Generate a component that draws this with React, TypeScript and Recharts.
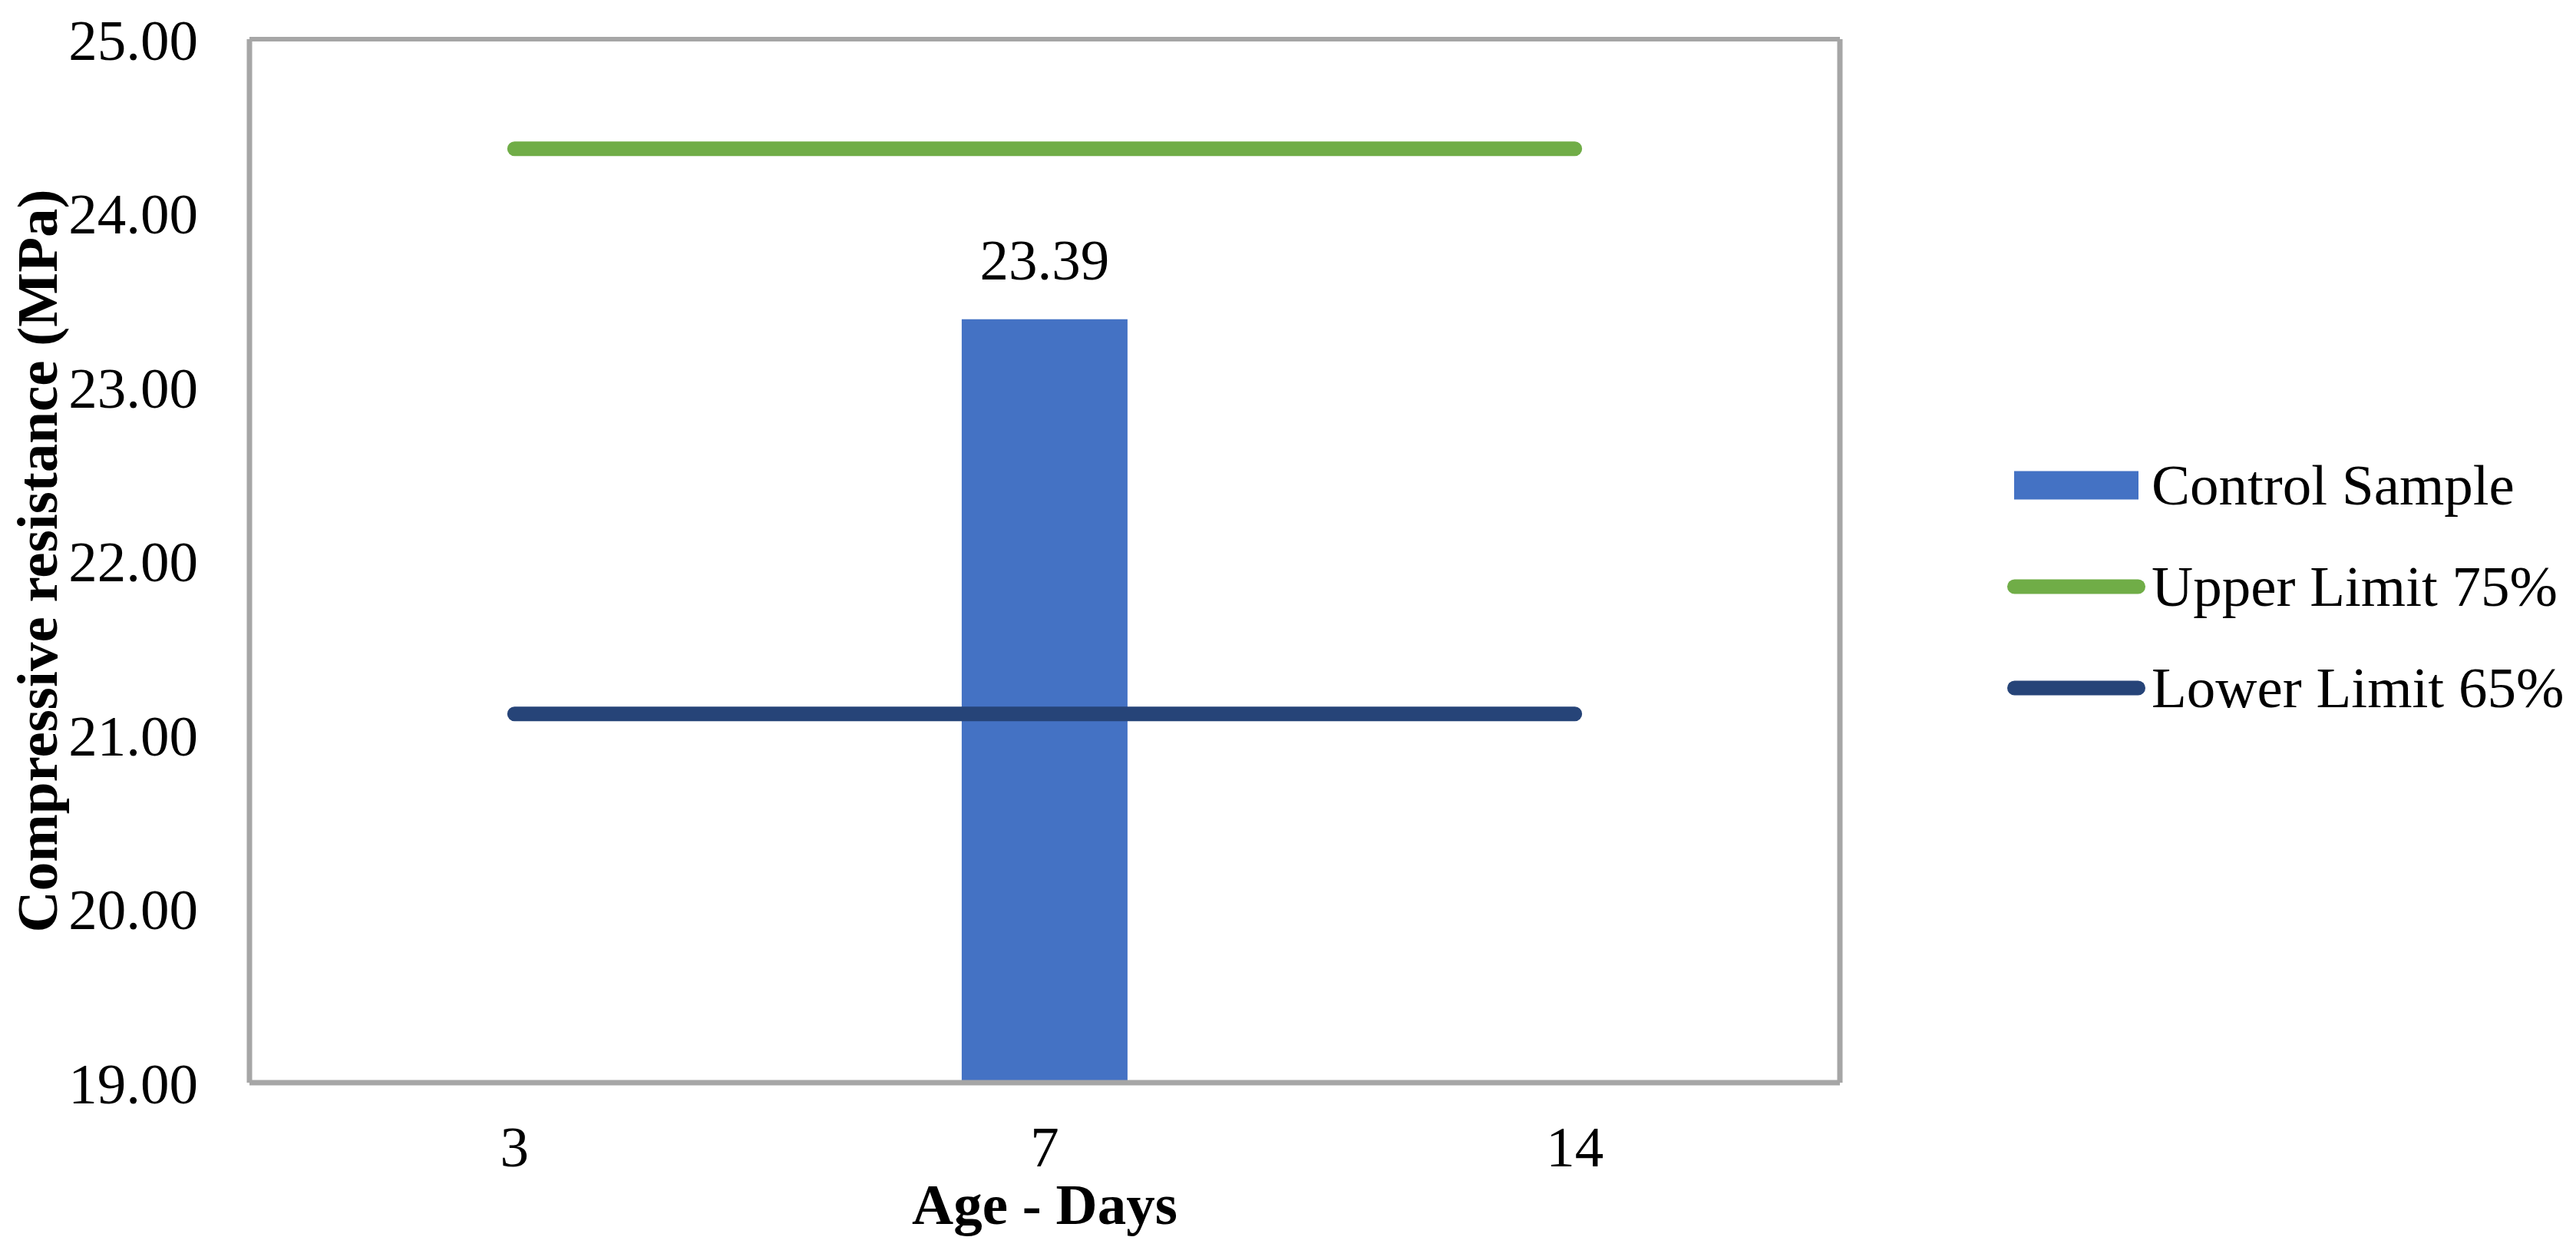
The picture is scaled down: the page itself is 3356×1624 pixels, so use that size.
import React from 'react';
import {
  ComposedChart,
  Bar,
  Line,
  XAxis,
  YAxis,
  CartesianGrid,
  Legend,
  LabelList,
  Label,
} from 'recharts';

const categories = ['3', '7', '14'];
const controlSample = [null, 23.39, null];
const upperLimit = [24.37, 24.37, 24.37];
const lowerLimit = [21.12, 21.12, 21.12];
const yTicks = [19, 20, 21, 22, 23, 24, 25];
const seriesNames = ['Control Sample', 'Upper Limit 75%', 'Lower Limit 65%'];

const data = categories.map((c, i) => ({
  age: c,
  control: controlSample[i],
  upper: upperLimit[i],
  lower: lowerLimit[i],
}));

const FONT = '"Liberation Serif", "Times New Roman", serif';
const GRID = '#A6A6A6';

const renderYTitle = (props: any) => {
  const vb = props.viewBox || { x: 0, y: 51, width: 325, height: 1359 };
  const cx = vb.x + 74;
  const cy = vb.y + vb.height / 2;
  return (
    <text
      x={cx}
      y={cy}
      transform={`rotate(-90 ${cx} ${cy})`}
      textAnchor="middle"
      fill="#000"
      fontSize={75}
      fontWeight="bold"
      fontFamily={FONT}
    >
      Compressive resistance (MPa)
    </text>
  );
};

const renderLegend = (props: any) => {
  const payload = [...(props.payload || [])].sort(
    (a: any, b: any) => seriesNames.indexOf(a.value) - seriesNames.indexOf(b.value)
  );
  return (
    <div style={{ display: 'flex', flexDirection: 'column' }}>
      {payload.map((entry: any, i: number) => (
        <div
          key={i}
          style={{ display: 'flex', alignItems: 'center', height: 132 }}
        >
          <svg width={180} height={40}>
            {entry.type === 'rect' ? (
              <rect x={9} y={1.5} width={162} height={37} fill={entry.color} />
            ) : (
              <line
                x1={9.5}
                x2={170.5}
                y1={20}
                y2={20}
                stroke={entry.color}
                strokeWidth={19}
                strokeLinecap="round"
              />
            )}
          </svg>
          <span
            style={{
              marginLeft: 8,
              fontSize: 75,
              fontFamily: FONT,
              color: '#000',
              lineHeight: 1.1,
              whiteSpace: 'nowrap',
            }}
          >
            {entry.value}
          </span>
        </div>
      ))}
    </div>
  );
};

export default function App() {
  return (
    <div
      style={{
        position: 'absolute',
        left: 0,
        top: 0,
        width: 3356,
        height: 1624,
        background: '#fff',
        fontFamily: FONT,
      }}
    >
      <ComposedChart
        width={3356}
        height={1624}
        data={data}
        margin={{ top: 51, right: 0, bottom: 0, left: 0 }}
        barCategoryGap="34.35%"
      >
        <CartesianGrid
          horizontal={true}
          vertical={false}
          stroke={GRID}
          strokeWidth={6}
        />
        <XAxis
          dataKey="age"
          height={214}
          tickLine={false}
          tickSize={0}
          tickMargin={56}
          axisLine={{ stroke: GRID, strokeWidth: 7 }}
          tick={{ fill: '#000', fontSize: 75, fontFamily: FONT }}
        >
          <Label
            value="Age - Days"
            position="insideBottom"
            offset={30}
            fill="#000"
            fontSize={75}
            fontWeight="bold"
            fontFamily={FONT}
          />
        </XAxis>
        <YAxis
          yAxisId="left"
          width={325}
          domain={[19, 25]}
          ticks={yTicks}
          interval={0}
          allowDataOverflow={true}
          tickFormatter={(v: number) => v.toFixed(2)}
          tickLine={false}
          tickSize={0}
          tickMargin={67}
          axisLine={{ stroke: GRID, strokeWidth: 7 }}
          tick={{ fill: '#000', fontSize: 75, fontFamily: FONT }}
        >
          <Label content={renderYTitle} />
        </YAxis>
        <YAxis
          yAxisId="right"
          orientation="right"
          width={959}
          domain={[19, 25]}
          ticks={yTicks}
          tick={false}
          tickLine={false}
          axisLine={{ stroke: GRID, strokeWidth: 7 }}
        />
        <Bar
          yAxisId="left"
          dataKey="control"
          name="Control Sample"
          fill="#4472C4"
          isAnimationActive={false}
        >
          <LabelList
            dataKey="control"
            position="top"
            offset={52}
            fill="#000"
            fontSize={75}
            fontFamily={FONT}
            formatter={(v: any) => (v == null ? '' : Number(v).toFixed(2))}
          />
        </Bar>
        <Line
          yAxisId="left"
          type="linear"
          dataKey="upper"
          name="Upper Limit 75%"
          stroke="#70AD47"
          strokeWidth={19}
          strokeLinecap="round"
          dot={false}
          activeDot={false}
          isAnimationActive={false}
        />
        <Line
          yAxisId="left"
          type="linear"
          dataKey="lower"
          name="Lower Limit 65%"
          stroke="#264478"
          strokeWidth={19}
          strokeLinecap="round"
          dot={false}
          activeDot={false}
          isAnimationActive={false}
        />
        <Legend
          layout="horizontal"
          verticalAlign="middle"
          align="center"
          content={renderLegend}
          wrapperStyle={{ left: 2615, top: 566, width: 741 }}
        />
      </ComposedChart>
    </div>
  );
}
